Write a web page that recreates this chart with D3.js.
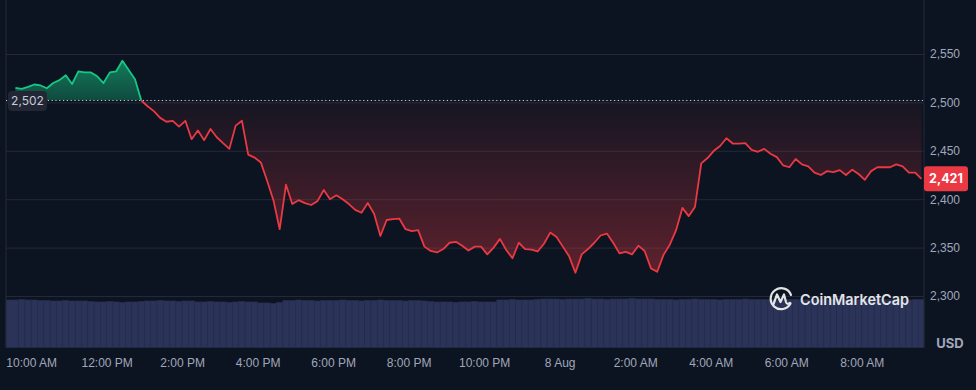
<!DOCTYPE html>
<html lang="en">
<head>
  <meta charset="UTF-8">
  <title>ETH price, 24h</title>
  <script src="https://d3js.org/d3.v7.min.js"></script>
  <style>
    body { margin: 0; padding: 0; background: #0d1421; }
    svg { display: block; font-family: Inter, "Noto Sans", sans-serif; }
  </style>
</head>
<body>
  <div id="chart"></div>
  <script>
    // price every 10 minutes, Aug 7 09:35 -> Aug 8 09:35
    const startTime = new Date(2024, 7, 7, 9, 35);
    const stepMinutes = 10;
    const prices = [
      2515, 2514, 2516, 2518.5, 2517.5, 2514.6, 2520, 2523, 2528, 2519,
      2532, 2531, 2531, 2527, 2520, 2531, 2532, 2543, 2533.5, 2524,
      2502, 2496, 2491, 2484, 2480, 2481, 2475, 2481, 2462, 2471,
      2461, 2472.5, 2464, 2458, 2452, 2476, 2481, 2446, 2443, 2438,
      2419, 2399, 2369, 2415, 2395, 2399, 2396, 2394, 2398, 2409.5,
      2400, 2404, 2400, 2395, 2389, 2386, 2396, 2385, 2362, 2378.5,
      2379.5, 2380, 2369, 2367, 2368, 2351, 2346.5, 2345, 2348.5, 2355,
      2356, 2352, 2347, 2351, 2351, 2343, 2350, 2359, 2347.5, 2339,
      2355, 2348.5, 2348, 2346, 2354, 2365.5, 2361, 2351, 2341, 2324,
      2343, 2348.5, 2355, 2362.5, 2364.5, 2355, 2344, 2345.5, 2343, 2352,
      2346.5, 2328.5, 2325, 2342.5, 2353, 2368, 2391, 2382.5, 2392, 2437,
      2442.5, 2450, 2455, 2463, 2457.5, 2457.5, 2458, 2451, 2449, 2452,
      2447, 2443.5, 2435, 2433, 2441.5, 2436, 2434, 2427.5, 2425, 2429,
      2428, 2430, 2425, 2430.5, 2426, 2420, 2429, 2433, 2433, 2433,
      2436, 2434, 2427.5, 2427.5, 2421
    ];
    // relative volume per 10-minute bar
    const volumes = [
      97, 98, 97, 97, 96, 96, 95, 95, 96, 95,
      95, 95, 94, 93, 93, 94, 93, 92, 93, 93,
      94, 95, 95, 96, 95, 95, 94, 95, 95, 93,
      93, 94, 93, 93, 92, 93, 94, 93, 93, 91,
      91, 90, 92, 96, 96, 97, 96, 96, 95, 96,
      96, 96, 97, 96, 96, 95, 96, 96, 97, 96,
      96, 96, 95, 96, 96, 95, 94, 93, 93, 93,
      92, 93, 93, 94, 93, 93, 93, 97, 97, 98,
      97, 97, 97, 98, 99, 99, 99, 98, 99, 99,
      99, 100, 99, 99, 98, 99, 99, 99, 100, 99,
      99, 99, 98, 98, 98, 97, 98, 98, 99, 98,
      98, 98, 97, 98, 98, 98, 99, 98, 98, 98,
      98, 97, 98, 98, 98, 97, 98, 98, 97, 98,
      98, 98, 98, 97, 98, 98, 98, 99, 98, 98,
      98, 98, 97, 98, 98
    ];
    const openPrice = 2502;
    const yTicks = [2300, 2350, 2400, 2450, 2500, 2550];
    const xTickLabels = ["10:00 AM", "12:00 PM", "2:00 PM", "4:00 PM", "6:00 PM", "8:00 PM",
                         "10:00 PM", "8 Aug", "2:00 AM", "4:00 AM", "6:00 AM", "8:00 AM"];
    const xTickTimes = xTickLabels.map((_, i) => new Date(2024, 7, 7, 10 + i * 2, 0));

    const data = prices.map((v, i) => ({
      t: new Date(startTime.getTime() + i * stepMinutes * 60000),
      v: v,
      vol: volumes[i]
    }));

    const W = 976, H = 390;
    const left = 6, right = 924, volBottom = 347.5;

    const svg = d3.select("#chart").append("svg")
      .attr("width", W)
      .attr("height", H);

    svg.append("rect").attr("width", W).attr("height", H).attr("fill", "#0d1421");

    const x = d3.scaleTime()
      .domain([new Date(2024, 7, 7, 9, 20), new Date(2024, 7, 8, 9, 39)])
      .range([left, right]);

    const y = d3.scaleLinear()
      .domain([2300, 2550])
      .range([296, 54]);

    const yVol = d3.scaleLinear()
      .domain([0, 100])
      .range([volBottom, 298.5]);

    const defs = svg.append("defs");

    const green = defs.append("linearGradient")
      .attr("id", "greenFill")
      .attr("gradientUnits", "userSpaceOnUse")
      .attr("x1", 0).attr("x2", 0)
      .attr("y1", y(d3.max(prices))).attr("y2", y(openPrice));
    green.append("stop").attr("offset", 0).attr("stop-color", "#16c784").attr("stop-opacity", 0.58);
    green.append("stop").attr("offset", 1).attr("stop-color", "#16c784").attr("stop-opacity", 0.3);

    const red = defs.append("linearGradient")
      .attr("id", "redFill")
      .attr("gradientUnits", "userSpaceOnUse")
      .attr("x1", 0).attr("x2", 0)
      .attr("y1", y(openPrice)).attr("y2", y(d3.min(prices)));
    red.append("stop").attr("offset", 0).attr("stop-color", "#ea3943").attr("stop-opacity", 0.04);
    red.append("stop").attr("offset", 1).attr("stop-color", "#ea3943").attr("stop-opacity", 0.36);

    defs.append("clipPath").attr("id", "above")
      .append("rect").attr("x", 0).attr("y", 0).attr("width", W).attr("height", y(openPrice));
    defs.append("clipPath").attr("id", "below")
      .append("rect").attr("x", 0).attr("y", y(openPrice)).attr("width", W).attr("height", H);

    // volume bars
    const halfStep = stepMinutes * 30000;
    svg.append("g")
      .selectAll("rect")
      .data(data)
      .join("rect")
      .attr("x", (d, i) => i === 0 ? left : x(new Date(d.t.getTime() - halfStep)))
      .attr("width", (d, i) => {
        const x0 = i === 0 ? left : x(new Date(d.t.getTime() - halfStep));
        const x1 = i === data.length - 1 ? right : x(new Date(d.t.getTime() + halfStep));
        return x1 - x0;
      })
      .attr("y", d => yVol(d.vol))
      .attr("height", d => volBottom - yVol(d.vol))
      .attr("fill", "#2b3458")
      .attr("stroke", "#252d4c")
      .attr("stroke-width", 0.6);

    // grid + right axis
    const yAxis = svg.append("g")
      .attr("transform", `translate(${right},0)`)
      .call(d3.axisRight(y).tickValues(yTicks).tickFormat(d3.format(",")).tickSize(-(right - left)).tickPadding(6));
    yAxis.select(".domain").remove();
    yAxis.selectAll("line").attr("stroke", "#242938");
    yAxis.selectAll("text").attr("fill", "#a1a7bb").style("font-size", "12px");

    // frame lines
    svg.append("line").attr("x1", left).attr("x2", left).attr("y1", 0).attr("y2", volBottom)
      .attr("stroke", "#242938");
    svg.append("line").attr("x1", right).attr("x2", right).attr("y1", 0).attr("y2", volBottom)
      .attr("stroke", "#242938");

    // x axis
    const xAxis = svg.append("g")
      .attr("transform", `translate(0,${volBottom})`)
      .call(d3.axisBottom(x).tickValues(xTickTimes).tickFormat((d, i) => xTickLabels[i]).tickSize(0).tickPadding(11));
    xAxis.select(".domain").remove();
    xAxis.selectAll("text").attr("fill", "#a1a7bb").style("font-size", "12px");

    // areas
    const area = d3.area()
      .x(d => x(d.t))
      .y0(y(openPrice))
      .y1(d => y(d.v));

    svg.append("path").datum(data)
      .attr("clip-path", "url(#above)")
      .attr("fill", "url(#greenFill)")
      .attr("d", area);
    svg.append("path").datum(data)
      .attr("clip-path", "url(#below)")
      .attr("fill", "url(#redFill)")
      .attr("d", area);

    // open price dotted line
    svg.append("line")
      .attr("x1", left).attr("x2", right)
      .attr("y1", y(openPrice)).attr("y2", y(openPrice))
      .attr("stroke", "#c8cdd8")
      .attr("stroke-width", 1)
      .attr("stroke-dasharray", "1.2 2.6");

    // price line
    const line = d3.line().x(d => x(d.t)).y(d => y(d.v));
    svg.append("path").datum(data)
      .attr("clip-path", "url(#above)")
      .attr("fill", "none").attr("stroke", "#16c784").attr("stroke-width", 1.8)
      .attr("stroke-linejoin", "round")
      .attr("d", line);
    svg.append("path").datum(data)
      .attr("clip-path", "url(#below)")
      .attr("fill", "none").attr("stroke", "#ea3943").attr("stroke-width", 1.8)
      .attr("stroke-linejoin", "round")
      .attr("d", line);

    // open price label
    svg.append("rect")
      .attr("x", 8).attr("y", y(openPrice) - 9.5)
      .attr("width", 39).attr("height", 20).attr("rx", 4)
      .attr("fill", "#232735");
    svg.append("text")
      .attr("x", 27.5).attr("y", y(openPrice) + 0.5)
      .attr("dy", "0.35em")
      .attr("text-anchor", "middle")
      .attr("fill", "#c6ccd8")
      .style("font-size", "12px")
      .text(d3.format(",")(openPrice));

    // last price label
    const last = data[data.length - 1];
    svg.append("rect")
      .attr("x", right).attr("y", y(last.v) - 12.5)
      .attr("width", 44).attr("height", 25).attr("rx", 3)
      .attr("fill", "#ea3943");
    svg.append("text")
      .attr("x", right + 22).attr("y", y(last.v))
      .attr("dy", "0.35em")
      .attr("text-anchor", "middle")
      .attr("fill", "#ffffff")
      .style("font-size", "12.5px").style("font-weight", 700)
      .text(d3.format(",")(Math.round(last.v)));

    svg.append("text")
      .attr("x", 950).attr("y", 343)
      .attr("dy", "0.35em")
      .attr("text-anchor", "middle")
      .attr("fill", "#a1a7bb")
      .style("font-size", "13px").style("font-weight", 700)
      .text("USD");

    // watermark
    const wm = svg.append("g").attr("opacity", 0.88);
    wm.append("path")
      .attr("d", "M790.5,303.5 A10.5,10.5 0 1 1 791,295")
      .attr("fill", "none").attr("stroke", "#ffffff").attr("stroke-width", 2.2).attr("stroke-linecap", "round");
    wm.append("path")
      .attr("d", "M773.5,304 L777,294.5 L780.5,302 L784,294.5 L786,302 Q787,305 790,303")
      .attr("fill", "none").attr("stroke", "#ffffff").attr("stroke-width", 2.2)
      .attr("stroke-linecap", "round").attr("stroke-linejoin", "round");
    wm.append("text")
      .attr("x", 800).attr("y", 305)
      .attr("fill", "#ffffff")
      .attr("textLength", 109).attr("lengthAdjust", "spacingAndGlyphs")
      .style("font-size", "15px").style("font-weight", 600)
      .text("CoinMarketCap");
  </script>
</body>
</html>
